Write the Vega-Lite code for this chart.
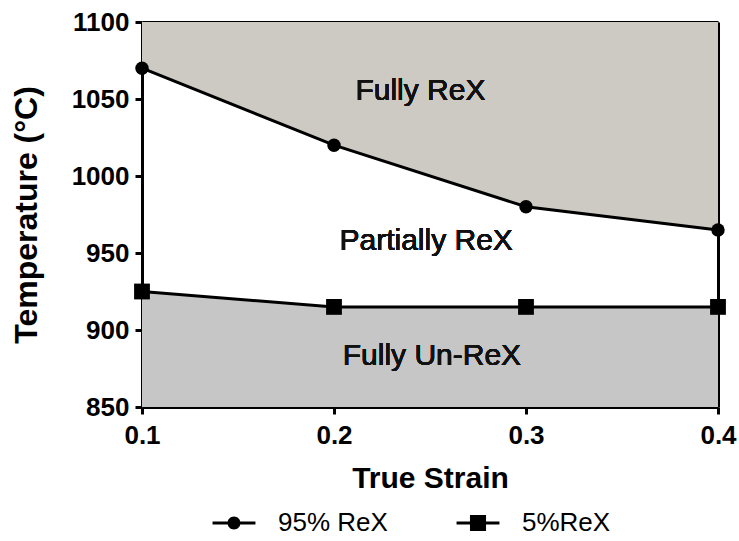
{
  "$schema": "https://vega.github.io/schema/vega-lite/v6.json",
  "width": 576,
  "height": 385,
  "autosize": {"type": "none"},
  "padding": {"left": 142, "top": 22, "right": 21, "bottom": 134},
  "background": "white",
  "config": {
    "view": {"stroke": null},
    "font": "Liberation Sans",
    "axis": {
      "grid": false,
      "domainColor": "#000",
      "domainWidth": 3,
      "tickColor": "#000",
      "tickWidth": 3,
      "tickSize": 7,
      "labelFont": "Liberation Sans",
      "labelFontSize": 26,
      "labelFontWeight": "bold",
      "labelColor": "#000",
      "labelPadding": 6,
      "labelFlush": false,
      "labelOverlap": false,
      "labelBound": false,
      "titleFont": "Liberation Sans",
      "titleFontSize": 30,
      "titleFontWeight": "bold",
      "titleColor": "#000",
      "zindex": 1
    }
  },
  "data": {
    "values": [
      {"strain": 0.1, "temp": 1070, "series": "95% ReX"},
      {"strain": 0.2, "temp": 1020, "series": "95% ReX"},
      {"strain": 0.3, "temp": 980, "series": "95% ReX"},
      {"strain": 0.4, "temp": 965, "series": "95% ReX"},
      {"strain": 0.1, "temp": 925, "series": "5%ReX"},
      {"strain": 0.2, "temp": 915, "series": "5%ReX"},
      {"strain": 0.3, "temp": 915, "series": "5%ReX"},
      {"strain": 0.4, "temp": 915, "series": "5%ReX"}
    ]
  },
  "layer": [
    {
      "transform": [{"filter": "datum.series === '95% ReX'"}],
      "mark": {"type": "area", "fill": "#cdc9c3", "opacity": 1},
      "encoding": {
        "x": {"field": "strain", "type": "quantitative", "scale": {"domain": [0.1, 0.4], "nice": false, "zero": false},
              "axis": {"orient": "top", "labels": false, "ticks": false, "title": null}},
        "y": {"field": "temp", "type": "quantitative", "scale": {"domain": [850, 1100], "nice": false, "zero": false},
              "axis": {"orient": "right", "labels": false, "ticks": false, "title": null}},
        "y2": {"datum": 1100}
      }
    },
    {
      "transform": [{"filter": "datum.series === '5%ReX'"}],
      "mark": {"type": "area", "fill": "#c6c6c6", "opacity": 1},
      "encoding": {
        "x": {"field": "strain", "type": "quantitative",
              "axis": {"orient": "bottom", "values": [0.1, 0.2, 0.3, 0.4], "format": ".1f", "title": "True Strain", "labelPadding": 8, "titlePadding": 15}},
        "y": {"field": "temp", "type": "quantitative",
              "axis": {"orient": "left", "values": [850, 900, 950, 1000, 1050, 1100], "format": "d", "title": "Temperature (°C)", "titleFontSize": 32, "titlePadding": 28}},
        "y2": {"datum": 850}
      }
    },
    {
      "mark": {"type": "line", "color": "#000", "strokeWidth": 3},
      "encoding": {
        "x": {"field": "strain", "type": "quantitative", "axis": null},
        "y": {"field": "temp", "type": "quantitative", "axis": null},
        "detail": {"field": "series"}
      }
    },
    {
      "mark": {"type": "point", "filled": true, "color": "#000", "opacity": 0, "size": 10},
      "encoding": {
        "x": {"field": "strain", "type": "quantitative", "axis": null},
        "y": {"field": "temp", "type": "quantitative", "axis": null},
        "shape": {"field": "series", "type": "nominal",
          "scale": {"domain": ["95% ReX", "5%ReX"], "range": [
            "M-1.95,-0.136L1.95,-0.136L1.95,0.136L-1.95,0.136ZM-0.59,0A0.59,0.59,0,1,1,0.59,0A0.59,0.59,0,1,1,-0.59,0Z",
            "M-1.95,-0.136L1.95,-0.136L1.95,0.136L-1.95,0.136ZM-0.73,-0.73L0.73,-0.73L0.73,0.73L-0.73,0.73Z"
          ]},
          "legend": {
            "orient": "none", "legendX": 79, "legendY": 488, "direction": "horizontal", "title": null,
            "labelFont": "Liberation Sans", "labelFontSize": 26, "labelColor": "#000",
            "symbolSize": 484, "symbolStrokeWidth": 0, "symbolFillColor": "#000",
            "symbolOpacity": 1,
            "labelOffset": 31, "columnPadding": 68, "padding": 0,
            "encode": {"symbols": {"update": {
              "fill": {"value": "#000"}, "opacity": {"value": 1}, "size": {"value": 484}
            }}}
          }}
      }
    },
    {
      "transform": [{"filter": "datum.series === '95% ReX'"}],
      "mark": {"type": "point", "shape": "circle", "filled": true, "color": "#000", "opacity": 1, "size": 180},
      "encoding": {
        "x": {"field": "strain", "type": "quantitative", "axis": null},
        "y": {"field": "temp", "type": "quantitative", "axis": null}
      }
    },
    {
      "transform": [{"filter": "datum.series === '5%ReX'"}],
      "mark": {"type": "point", "shape": "square", "filled": true, "color": "#000", "opacity": 1, "size": 250},
      "encoding": {
        "x": {"field": "strain", "type": "quantitative", "axis": null},
        "y": {"field": "temp", "type": "quantitative", "axis": null}
      }
    },
    {
      "mark": {"type": "text", "font": "Liberation Sans", "fontSize": 30, "color": "#111", "align": "center", "baseline": "middle"},
      "encoding": {"x": {"datum": 0.245, "axis": null}, "y": {"datum": 1055, "axis": null}, "text": {"value": "Fully ReX"}}
    },
    {
      "mark": {"type": "text", "font": "Liberation Sans", "fontSize": 30, "color": "#111", "align": "center", "baseline": "middle"},
      "encoding": {"x": {"datum": 0.248, "axis": null}, "y": {"datum": 958, "axis": null}, "text": {"value": "Partially ReX"}}
    },
    {
      "mark": {"type": "text", "font": "Liberation Sans", "fontSize": 30, "color": "#111", "align": "center", "baseline": "middle"},
      "encoding": {"x": {"datum": 0.251, "axis": null}, "y": {"datum": 883, "axis": null}, "text": {"value": "Fully Un-ReX"}}
    }
  ]
}
